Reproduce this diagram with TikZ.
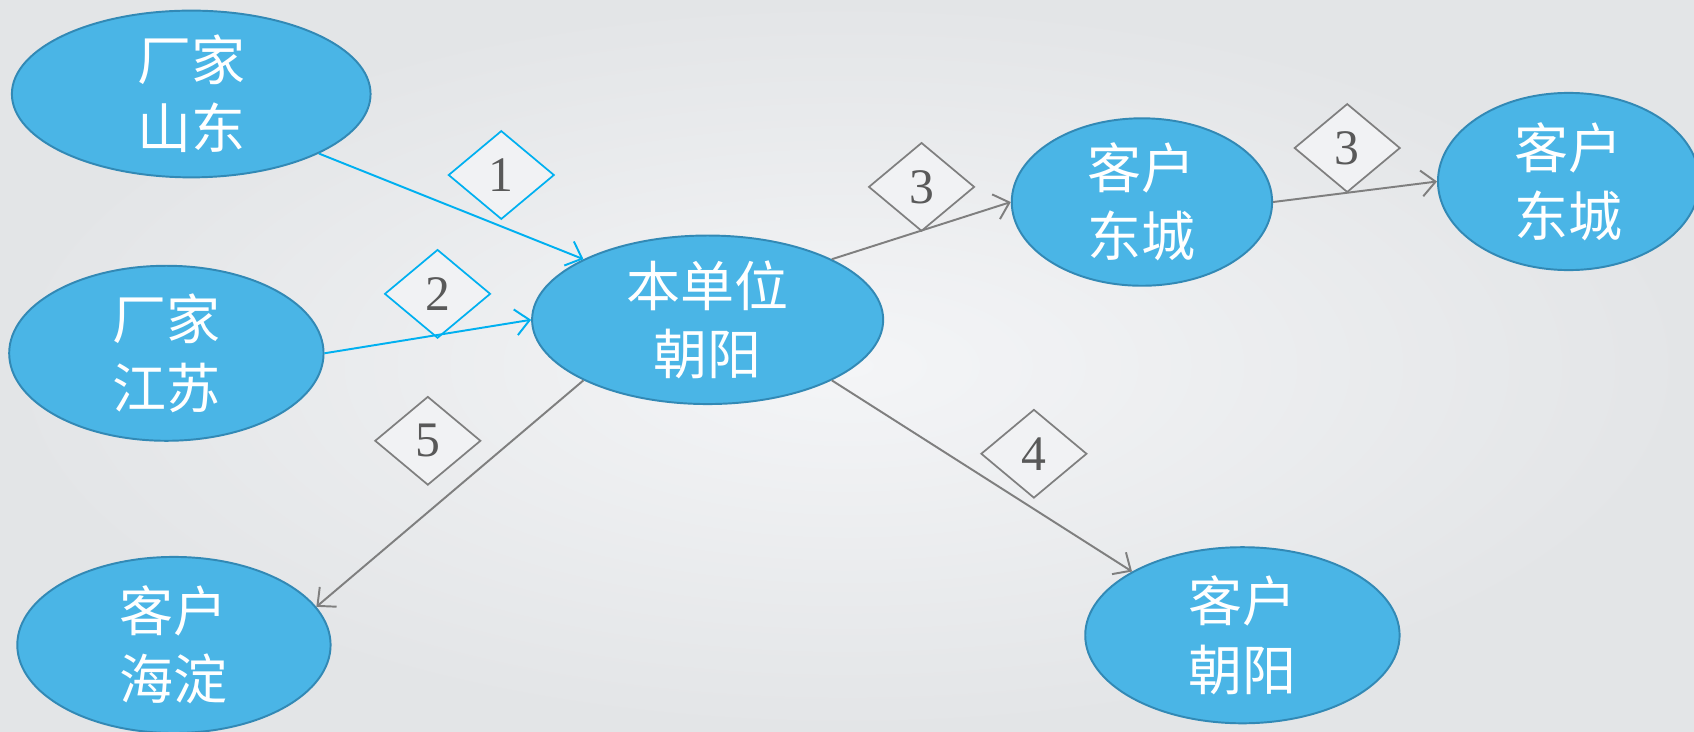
\documentclass[tikz,border=0pt]{standalone}
\usepackage{fontspec}
\setmainfont{Liberation Serif}
\newfontfamily\cjk{Noto Sans CJK SC}
\usetikzlibrary{shapes.geometric,arrows.meta}
\definecolor{bgin}{HTML}{F4F5F7}
\definecolor{bgout}{HTML}{E3E5E7}
\definecolor{efill}{HTML}{4AB5E6}
\definecolor{edraw}{HTML}{3289B5}
\definecolor{cyanl}{HTML}{00B0F0}
\definecolor{grayl}{HTML}{7F7F7F}
\definecolor{numc}{HTML}{595959}
\definecolor{dfill}{HTML}{F1F2F4}
\tikzset{
  place/.style={ellipse, fill=efill, draw=edraw, line width=1.8pt, inner sep=0pt,
    align=center, text=white, font=\cjk\fontsize{50}{63}\selectfont},
  tag/.style={diamond, fill=dfill, line width=1.6pt, inner sep=0pt, aspect=1.2,
    minimum width=98pt, minimum height=82pt, text=numc, font=\fontsize{46}{46}\selectfont},
  cyantag/.style={tag, draw=cyanl},
  graytag/.style={tag, draw=grayl},
  cflow/.style={draw=cyanl, line width=1.8pt, -{Straight Barb[length=13pt,width=24pt,line width=1.8pt]}},
  gflow/.style={draw=grayl, line width=1.8pt, -{Straight Barb[length=13pt,width=24pt,line width=1.8pt]}}
}
\begin{document}
\begin{tikzpicture}[x=1pt,y=-1pt]
\shade[inner color=bgin, outer color=bgout] (0,0) rectangle (1568,677);
\useasboundingbox (0,0) rectangle (1568,677);
\node[place, minimum width=332pt, minimum height=154pt] (sd) at (177,87) {厂家\\山东};
\node[place, minimum width=291pt, minimum height=162pt] (js) at (154,327) {厂家\\江苏};
\node[place, minimum width=325pt, minimum height=156pt] (bd) at (655,296) {本单位\\朝阳};
\node[place, minimum width=241pt, minimum height=155pt] (dc1) at (1057,187) {客户\\东城};
\node[place, minimum width=242pt, minimum height=164pt] (dc2) at (1452,168) {客户\\东城};
\node[place, minimum width=290pt, minimum height=163pt] (hd) at (161,597) {客户\\海淀};
\node[place, minimum width=291pt, minimum height=163pt] (cy) at (1150,588) {客户\\朝阳};

\node[cyantag] (t1) at (464,162) {1};
\node[cyantag] (t2) at (405,272) {2};
\node[graytag] (t3) at (853,173) {3};
\node[graytag] (t3b) at (1247,137) {3};
\node[graytag] (t5) at (396,408) {5};
\node[graytag] (t4) at (957,420) {4};

\draw[cflow] (sd.-25.4) -- (bd.154.8);
\draw[cflow] (js.0) -- (bd.180);
\draw[gflow] (bd.26) -- (dc1.180);
\draw[gflow] (dc1.0) -- (dc2.180);
\draw[gflow] (bd.-26) -- (cy.150.6);
\draw[gflow] (bd.206) -- (hd.15);
\end{tikzpicture}
\end{document}
